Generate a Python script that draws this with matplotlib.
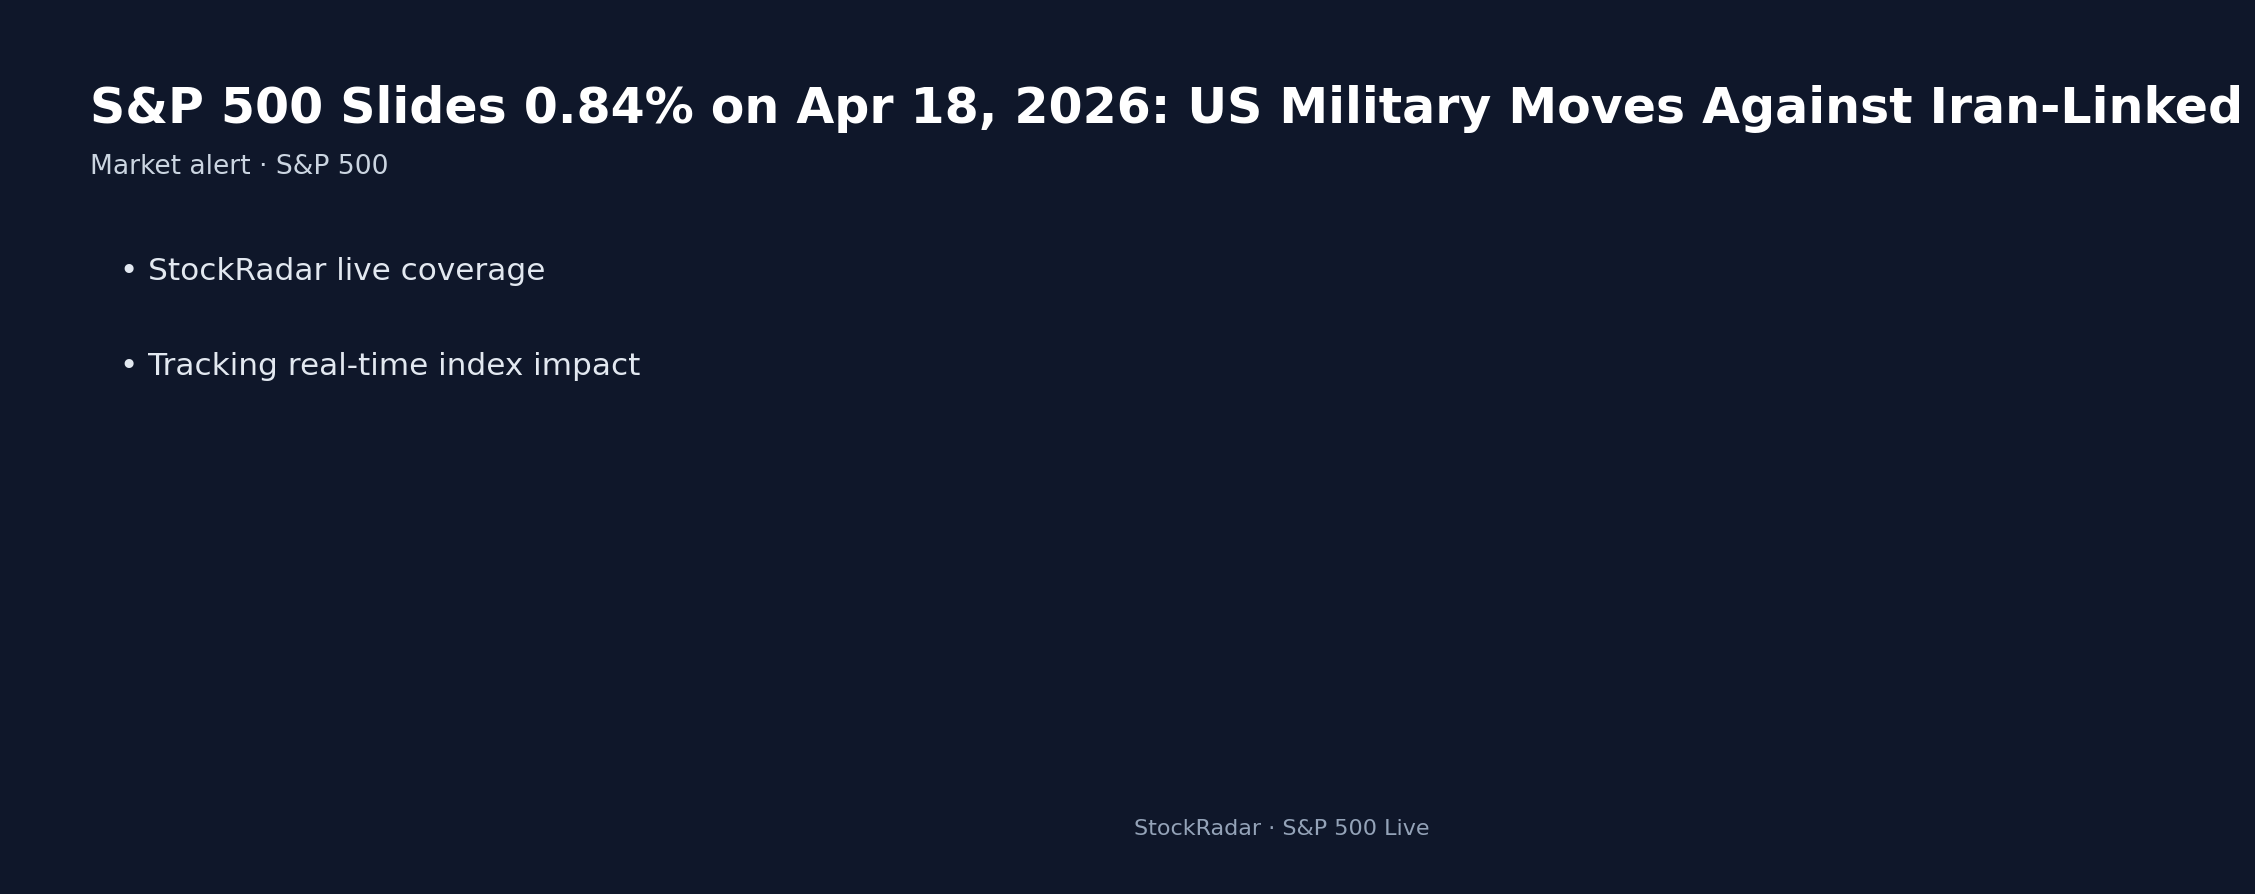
import matplotlib
matplotlib.use("Agg")
import matplotlib.pyplot as plt

plt.rcParams['font.family'] = ['DejaVu Sans']

BG = "#0f172a"

title = "S&P 500 Slides 0.84% on Apr 18, 2026: US Military Moves Against Iran-Linked"
subtitle = "Market alert \u00b7 S&P 500"
bullets = ["StockRadar live coverage", "Tracking real-time index impact"]
footer = "StockRadar \u00b7 S&P 500 Live"

W, H = 2255, 894
fig = plt.figure(figsize=(W / 100 + 0.001, H / 100 + 0.001), dpi=100, facecolor=BG)

# positions in pixels from top-left, converted to figure fraction
def fx(px):
    return px / W

def fy(py):
    return 1 - py / H

fig.text(fx(90), fy(123), title, fontsize=35.25, fontweight="bold", color="white",
         ha="left", va="baseline")
fig.text(fx(90), fy(174), subtitle, fontsize=19.1, color="#cbd5e1",
         ha="left", va="baseline")

bullet_y = [280, 375]
for y, b in zip(bullet_y, bullets):
    fig.text(fx(120), fy(y), "\u2022 " + b, fontsize=22.4, color="#e2e8f0",
             ha="left", va="baseline")

fig.text(fx(1282), fy(835), footer, fontsize=16, color="#94a3b8",
         ha="center", va="baseline")

fig.savefig("out.png", dpi=100, facecolor=BG)
